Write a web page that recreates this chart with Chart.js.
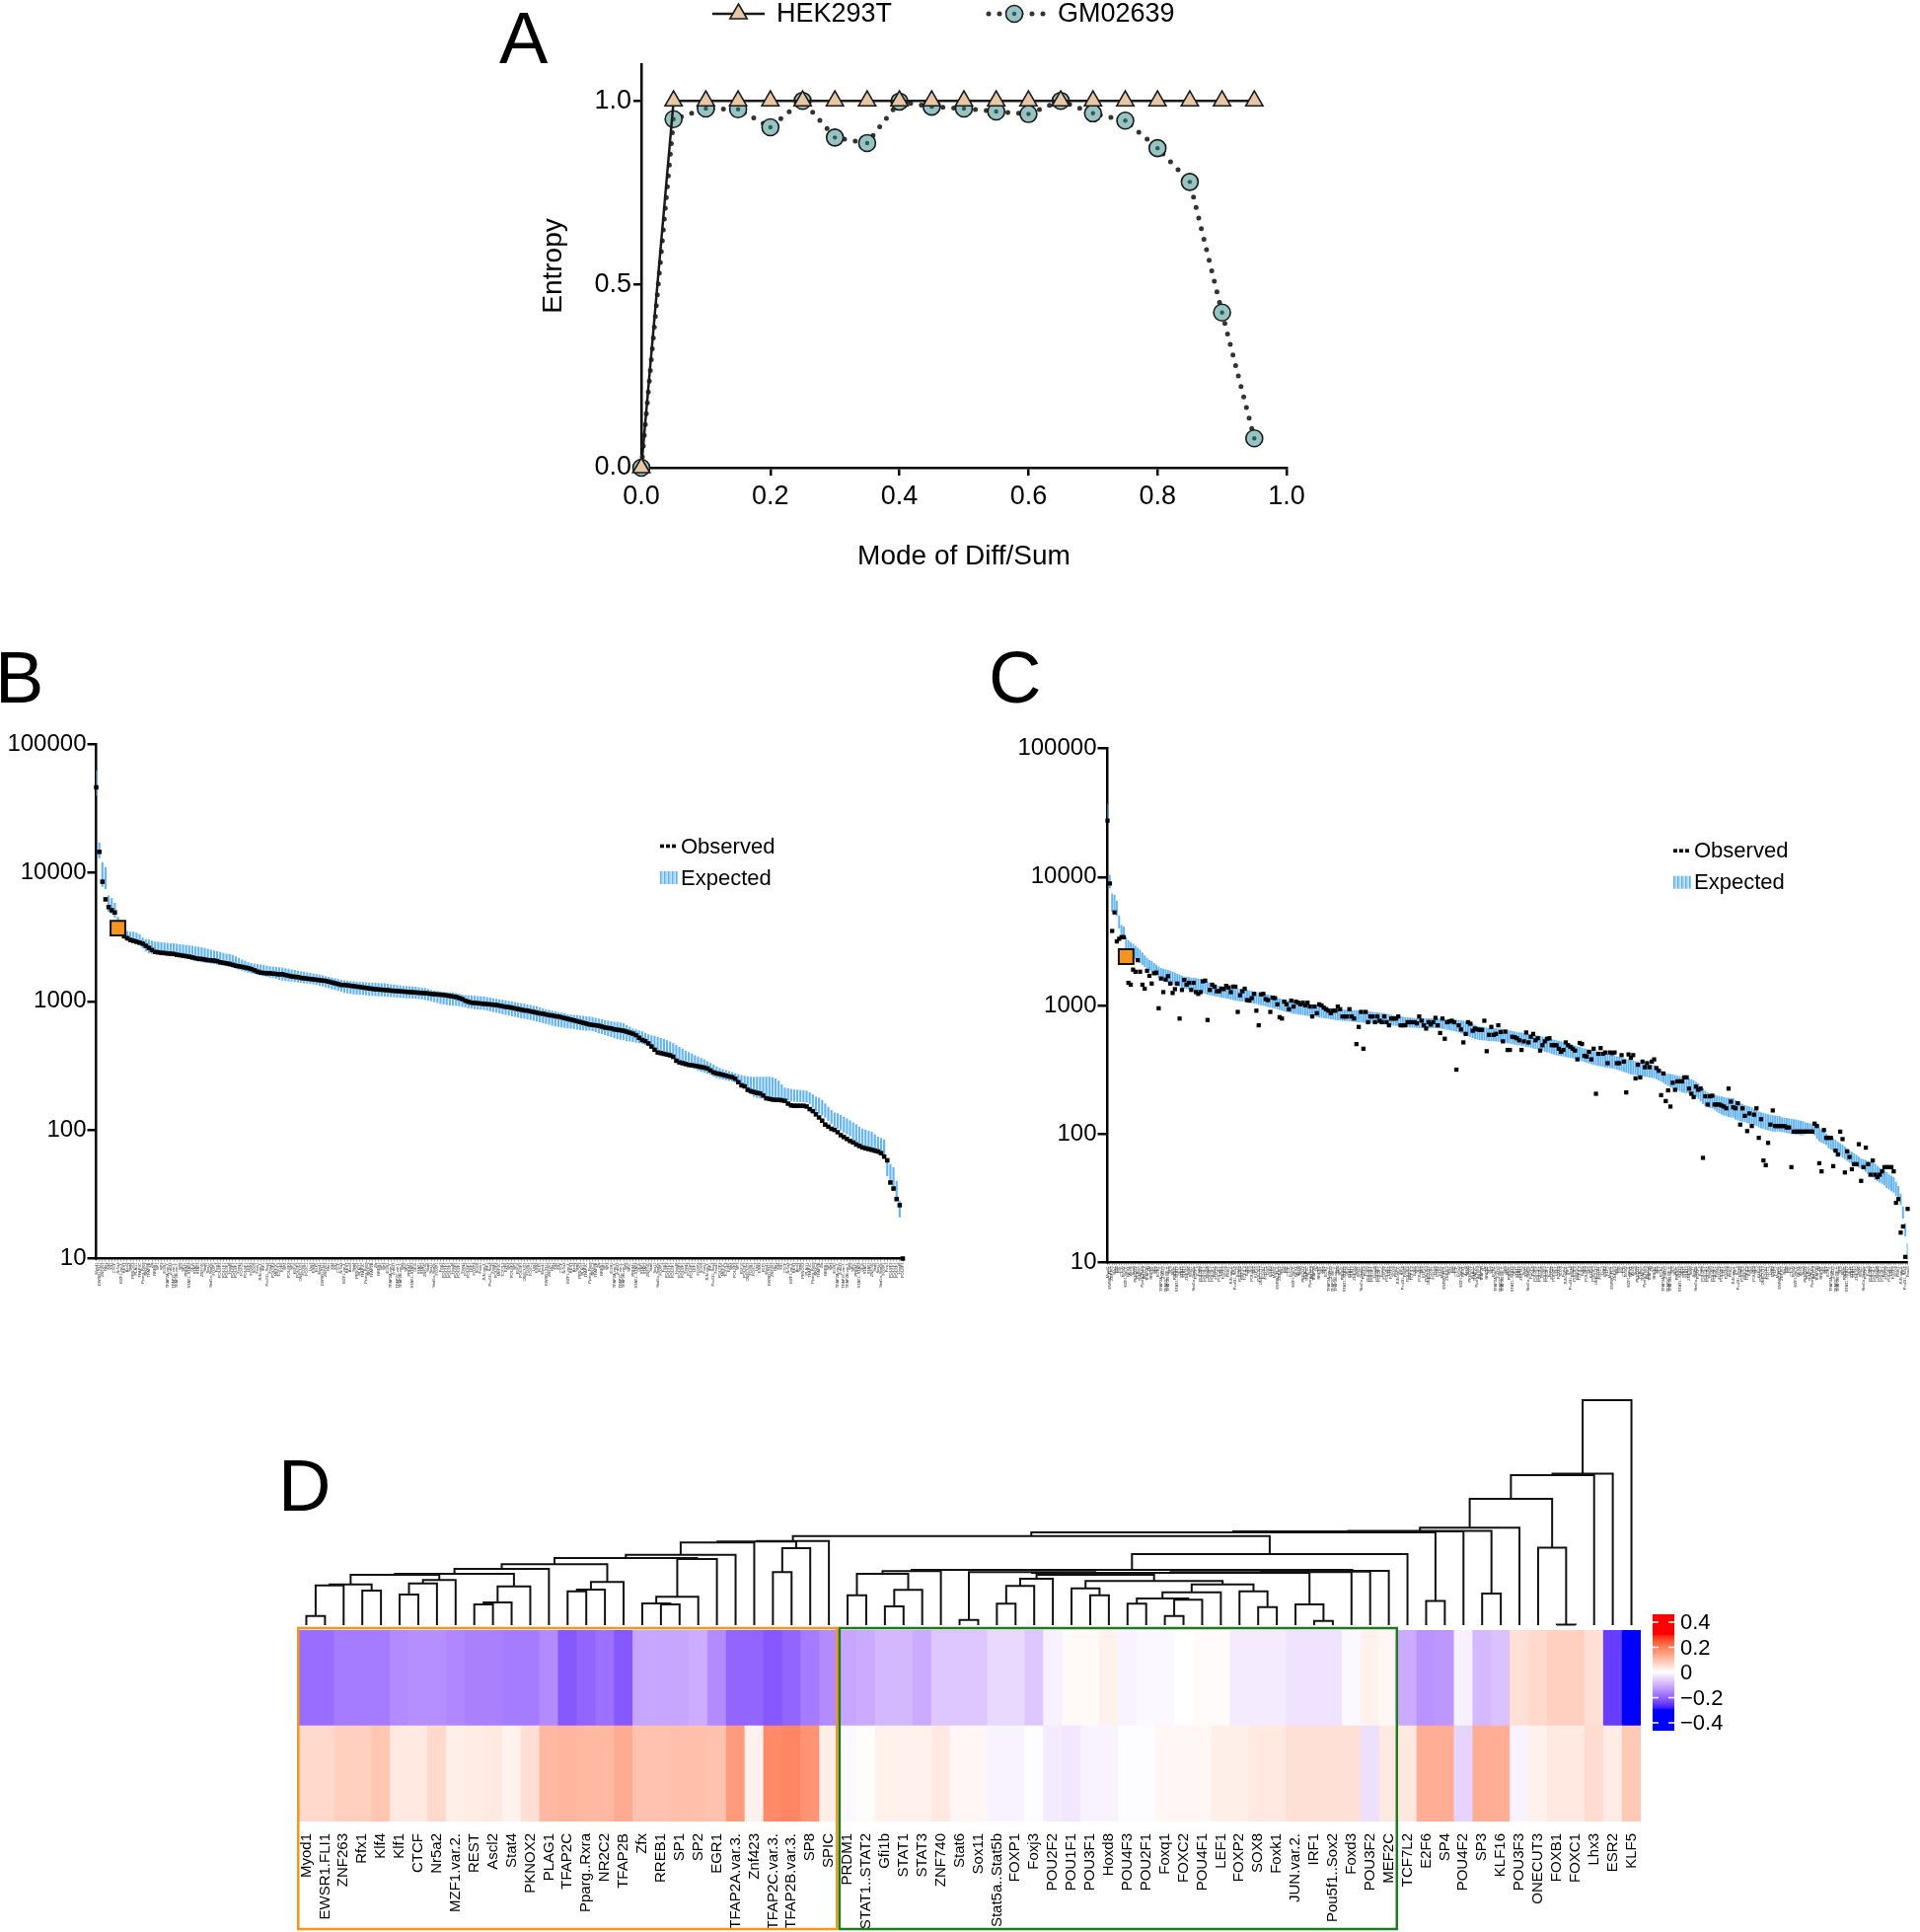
<!DOCTYPE html>
<html>
<head>
<meta charset="utf-8">
<script src="https://cdn.jsdelivr.net/npm/chart.js@4.4.1/dist/chart.umd.min.js"></script>
<style>
  html, body { margin: 0; padding: 0; background: #fff; }
  #page { position: relative; width: 1946px; height: 1958px; overflow: hidden; background: #fff;
          font-family: 'Liberation Sans', Arial, Helvetica, sans-serif; }
  canvas { position: absolute; }
  .panel-letter { position: absolute; font-size: 74px; line-height: 1; color: #000; }
</style>
</head>
<body>
<div id="page">
  <div class="panel-letter" style="left:506px;top:2px">A</div>
  <div class="panel-letter" style="left:-5px;top:650px">B</div>
  <div class="panel-letter" style="left:1002px;top:650px">C</div>
  <div class="panel-letter" style="left:282px;top:1469px">D</div>

  <canvas id="chartA" width="880" height="610" style="left:480px;top:0px;width:880px;height:610px"></canvas>
  <canvas id="chartB" width="940" height="590" style="left:0px;top:730px;width:940px;height:590px"></canvas>
  <canvas id="chartC" width="936" height="590" style="left:1010px;top:730px;width:936px;height:590px"></canvas>
  <canvas id="chartDendro" width="1420" height="252" style="left:280px;top:1400px;width:1420px;height:252px"></canvas>
  <canvas id="chartHeat" width="1420" height="318" style="left:280px;top:1640px;width:1420px;height:318px"></canvas>
  <canvas id="chartBar" width="140" height="150" style="left:1660px;top:1620px;width:140px;height:150px"></canvas>
</div>

<script>
// ---- panel A: entropy vs mode of diff/sum ----
const modeDiffSum = [0, 0.05, 0.1, 0.15, 0.2, 0.25, 0.3, 0.35, 0.4, 0.45, 0.5, 0.55, 0.6, 0.65, 0.7, 0.75, 0.8, 0.85, 0.9, 0.95];
const hekEntropy = [0, 1, 1, 1, 1, 1, 1, 1, 1, 1, 1, 1, 1, 1, 1, 1, 1, 1, 1, 1];
const gmEntropy = [0, 0.95, 0.979, 0.977, 0.928, 1.0, 0.9, 0.885, 0.998, 0.984, 0.979, 0.971, 0.964, 1.0, 0.966, 0.946, 0.871, 0.779, 0.423, 0.08];
const entropyTicks = [0, 0.5, 1.0];

// ---- panels B and C: observed vs expected counts ----
const logTicks = [10, 100, 1000, 10000, 100000];

const bHighlight = 7;
const bObserved = [46000, 14500, 8500, 6200, 5400, 5100, 4900, 3700, 3500, 3200,
  3100, 3000, 2950, 2900, 2850, 2800, 2700, 2600, 2500, 2420,
  2400, 2380, 2370, 2350, 2340, 2330, 2300, 2280, 2260, 2240,
  2220, 2190, 2160, 2140, 2130, 2110, 2090, 2080, 2070, 2050,
  2010, 1990, 1970, 1950, 1920, 1890, 1870, 1850, 1830, 1810,
  1780, 1740, 1700, 1670, 1660, 1650, 1650, 1640, 1630, 1620,
  1620, 1600, 1580, 1560, 1550, 1540, 1520, 1510, 1500, 1490,
  1480, 1470, 1460, 1450, 1440, 1420, 1400, 1380, 1360, 1340,
  1340, 1330, 1320, 1310, 1300, 1290, 1280, 1270, 1260, 1250,
  1240, 1235, 1230, 1225, 1220, 1210, 1205, 1200, 1195, 1190,
  1185, 1180, 1175, 1170, 1165, 1160, 1155, 1150, 1140, 1135,
  1130, 1125, 1120, 1110, 1100, 1090, 1080, 1060, 1040, 1010,
  990, 975, 970, 965, 960, 955, 950, 945, 940, 935,
  925, 915, 905, 900, 890, 880, 870, 860, 850, 845,
  835, 825, 815, 805, 800, 790, 780, 775, 765, 760,
  750, 740, 730, 720, 710, 700, 690, 680, 670, 660,
  655, 650, 645, 635, 625, 620, 615, 605, 600, 595,
  590, 580, 570, 560, 545, 520, 500, 490, 470, 445,
  420, 400, 395, 390, 385, 380, 370, 345, 335, 330,
  325, 320, 318, 315, 312, 308, 305, 300, 290, 280,
  275, 272, 268, 264, 260, 257, 250, 235, 222, 218,
  205, 200, 197, 194, 192, 185, 176, 174, 172, 171,
  171, 170, 168, 160, 155, 154, 154, 154, 154, 152,
  145, 140, 132, 125, 118, 110, 106, 102, 100, 96,
  91, 88, 85, 82, 80, 77, 75, 73, 72, 71,
  70, 69, 68, 66, 62, 58, 39, 35, 29, 26,
  10];
const bExpLow = [40000, 13000, 7800, 7500, 5000, 4800, 4500, 3700, 3300, 3100,
  2950, 2920, 2900, 2880, 2850, 2600, 2450, 2380, 2350, 2340,
  2330, 2320, 2310, 2300, 2280, 2260, 2240, 2220, 2200, 2180,
  2150, 2110, 2080, 2050, 2020, 2000, 1990, 1980, 1960, 1940,
  1920, 1900, 1880, 1860, 1830, 1800, 1770, 1740, 1710, 1680,
  1660, 1640, 1620, 1600, 1580, 1560, 1540, 1520, 1500, 1480,
  1460, 1450, 1440, 1430, 1420, 1410, 1400, 1390, 1380, 1370,
  1360, 1350, 1330, 1310, 1290, 1270, 1250, 1230, 1210, 1190,
  1170, 1160, 1150, 1140, 1135, 1130, 1125, 1120, 1115, 1110,
  1105, 1100, 1100, 1095, 1090, 1085, 1080, 1075, 1070, 1065,
  1060, 1060, 1055, 1050, 1045, 1040, 1030, 1020, 1005, 990,
  975, 960, 950, 940, 935, 930, 925, 920, 910, 900,
  890, 880, 875, 870, 865, 860, 850, 840, 830, 820,
  810, 800, 790, 780, 770, 760, 750, 740, 735, 730,
  720, 710, 700, 690, 680, 670, 660, 650, 640, 635,
  630, 625, 620, 615, 610, 605, 600, 598, 596, 595,
  590, 580, 570, 560, 550, 540, 530, 520, 510, 505,
  500, 495, 490, 485, 480, 475, 470, 460, 450, 440,
  430, 420, 410, 400, 390, 380, 370, 360, 350, 340,
  330, 320, 310, 300, 290, 285, 280, 275, 270, 262,
  255, 250, 248, 245, 242, 240, 235, 230, 225, 222,
  200, 190, 182, 178, 177, 177, 177, 177, 177, 176,
  174, 172, 171, 170, 168, 167, 166, 165, 165, 164,
  160, 150, 140, 135, 130, 125, 118, 112, 106, 103,
  100, 96, 93, 90, 85, 80, 76, 72, 70, 69,
  68, 66, 65, 64, 63, 44, 40, 34, 30, 21,
  null];
const bExpHigh = [62000, 17000, 12000, 11000, 6600, 6300, 5800, 4500, 3800, 3700,
  3500, 3460, 3450, 3400, 3300, 3100, 3020, 3000, 2950, 2900,
  2880, 2860, 2840, 2830, 2810, 2800, 2780, 2760, 2740, 2720,
  2700, 2680, 2650, 2640, 2620, 2580, 2540, 2500, 2470, 2440,
  2400, 2360, 2330, 2310, 2280, 2220, 2160, 2100, 2050, 2000,
  1970, 1950, 1940, 1920, 1900, 1880, 1860, 1850, 1840, 1830,
  1820, 1800, 1780, 1760, 1740, 1720, 1700, 1690, 1670, 1650,
  1640, 1620, 1600, 1580, 1560, 1540, 1520, 1500, 1480, 1460,
  1450, 1440, 1430, 1420, 1410, 1405, 1400, 1395, 1390, 1385,
  1385, 1380, 1375, 1370, 1360, 1350, 1340, 1330, 1320, 1310,
  1305, 1300, 1295, 1290, 1280, 1270, 1260, 1240, 1220, 1200,
  1190, 1180, 1175, 1170, 1165, 1160, 1150, 1140, 1120, 1110,
  1105, 1100, 1095, 1090, 1085, 1080, 1070, 1060, 1050, 1040,
  1030, 1020, 1010, 1000, 990, 980, 970, 960, 950, 940,
  930, 920, 905, 890, 875, 860, 850, 840, 830, 820,
  810, 800, 790, 785, 780, 775, 770, 765, 760, 755,
  750, 740, 730, 720, 710, 700, 695, 690, 685, 680,
  670, 650, 630, 610, 600, 590, 580, 565, 550, 540,
  535, 525, 515, 505, 495, 485, 470, 455, 440, 425,
  410, 400, 390, 380, 370, 360, 350, 340, 330, 320,
  310, 300, 295, 290, 285, 280, 275, 270, 266, 262,
  260, 258, 257, 257, 257, 257, 257, 257, 255, 250,
  240, 225, 212, 209, 207, 205, 204, 203, 202, 200,
  195, 188, 180, 177, 170, 160, 150, 142, 136, 134,
  130, 126, 122, 118, 114, 110, 105, 102, 100, 98,
  96, 92, 88, 86, 84, 56, 54, 51, 40, 28,
  null];

const cHighlight = 8;
const cObserved = [27500, 8900, 3800, 5300, 3150, 3300, 3400, 3400, 2400, 1500,
  1450, 1900, 1830, 2250, 1830, 1450, 1350, 1860, 1700, 1480,
  1780, 1800, 950, 1620, 1270, 1590, 1690, 1480, 1250, 1340,
  1480, 790, 1320, 1580, 1450, 1500, 1320, 1500, 1270, 1230,
  1270, 1540, 1560, 770, 1320, 1450, 1400, 1290, 1290, 1350,
  1340, 1420, 1380, 1270, 1400, 1400, 890, 1200, 1290, 1350,
  1100, 1090, 1140, 1230, 910, 700, 1220, 1230, 1120, 1100,
  890, 1150, 1140, 1020, 810, 790, 1070, 1020, 935, 1090,
  980, 1070, 1050, 1020, 1050, 1000, 1050, 980, 820, 980,
  870, 1020, 1000, 960, 935, 910, 870, 910, 910, 980,
  935, 820, 820, 820, 935, 820, 790, 500, 680, 890,
  460, 890, 740, 820, 820, 740, 820, 760, 740, 820,
  740, 700, 790, 790, 790, 820, 700, 700, 700, 740,
  740, 740, 740, 725, 820, 760, 700, 660, 740, 710,
  740, 800, 700, 610, 790, 550, 740, 750, 760, 740,
  316, 700, 650, 515, 600, 740, 720, 635, 660, 650,
  645, 645, 760, 440, 590, 680, 590, 600, 700, 620,
  525, 625, 450, 450, 570, 565, 555, 535, 450, 525,
  615, 515, 570, 600, 535, 555, 445, 490, 525, 550,
  555, 490, 490, 490, 460, 435, 450, 515, 490, 475,
  460, 445, 380, 510, 500, 405, 400, 435, 380, 460,
  205, 420, 465, 420, 430, 355, 430, 425, 430, 355,
  355, 410, 365, 210, 415, 390, 410, 270, 345, 275,
  365, 330, 355, 330, 365, 380, 325, 310, 200, 295,
  180, 218, 163, 250, 220, 256, 256, 256, 275, 275,
  225, 205, 193, 233, 220, 225, 65, 196, 169, 196,
  198, 169, 169, 169, 166, 163, 158, 225, 178, 161,
  158, 173, 118, 158, 138, 105, 144, 115, 141, 158,
  93, 130, 62, 57, 85, 118, 152, 115, 115, 115,
  115, 115, 112, 112, 55, 104, 104, 104, 104, 104,
  104, 104, 104, 104, 120, 115, 59, 51, 107, 93,
  93, 93, 56, 74, 69, 104, 91, 50, 73, 66,
  53, 58, 58, 83, 43, 55, 78, 58, 48, 62,
  48, 46, 48, 51, 55, 55, 55, 55, 51, 29,
  31, 17, 19, 11, 26];
const cExpLow = [27500, 8200, 5400, 5400, 5000, 4000, 3400, 3300, 2800, 2600,
  2500, 2400, 2300, 2200, 2150, 2080, 2000, 1940, 1880, 1840,
  1780, 1720, 1660, 1600, 1560, 1530, 1500, 1480, 1460, 1440,
  1420, 1400, 1380, 1360, 1350, 1340, 1330, 1320, 1310, 1300,
  1280, 1260, 1240, 1220, 1210, 1200, 1190, 1180, 1170, 1160,
  1150, 1140, 1130, 1120, 1110, 1100, 1090, 1085, 1080, 1075,
  1070, 1060, 1050, 1040, 1030, 1020, 1010, 1000, 990, 980,
  970, 960, 950, 940, 930, 915, 905, 895, 885, 875,
  865, 860, 855, 850, 845, 840, 835, 830, 825, 820,
  815, 810, 805, 800, 795, 790, 785, 780, 775, 770,
  768, 765, 762, 760, 757, 754, 750, 747, 744, 740,
  738, 735, 732, 730, 728, 726, 724, 722, 720, 718,
  715, 710, 705, 700, 697, 694, 690, 687, 684, 680,
  678, 676, 674, 672, 670, 670, 670, 670, 670, 670,
  670, 670, 668, 665, 660, 655, 650, 645, 640, 635,
  630, 620, 610, 600, 590, 580, 570, 560, 550, 545,
  540, 538, 536, 534, 532, 530, 528, 526, 524, 522,
  520, 515, 510, 506, 502, 500, 496, 492, 488, 484,
  480, 475, 470, 466, 462, 458, 452, 446, 440, 434,
  428, 422, 416, 412, 410, 406, 402, 398, 395, 392,
  390, 385, 380, 375, 370, 365, 360, 355, 350, 346,
  343, 340, 337, 334, 331, 328, 326, 325, 322, 318,
  314, 310, 305, 300, 296, 292, 290, 288, 286, 284,
  282, 280, 278, 276, 275, 272, 268, 262, 256, 250,
  244, 238, 232, 228, 224, 220, 216, 212, 210, 208,
  206, 204, 200, 195, 188, 180, 172, 166, 162, 160,
  158, 155, 150, 146, 142, 140, 138, 136, 135, 134,
  130, 128, 126, 125, 124, 122, 121, 120, 118, 116,
  113, 111, 110, 108, 107, 106, 105, 105, 105, 105,
  104, 103, 102, 101, 100, 100, 99, 99, 98, 98,
  100, 102, 104, 104, 98, 92, 88, 86, 84, 82,
  78, 76, 74, 72, 70, 68, 66, 64, 62, 60,
  58, 57, 56, 55, 54, 53, 51, 49, 47, 46,
  44, 43, 42, 41, 40, 38, 37, 36, 35, 33,
  31, 28, 22, 16, 10.5];
const cExpHigh = [37000, 10300, 7400, 7200, 6500, 5000, 4200, 4100, 3400, 3200,
  3100, 3000, 2900, 2800, 2700, 2560, 2440, 2330, 2250, 2200,
  2130, 2060, 2000, 1950, 1920, 1900, 1880, 1850, 1820, 1790,
  1760, 1730, 1700, 1670, 1660, 1650, 1640, 1630, 1620, 1610,
  1600, 1570, 1540, 1510, 1490, 1470, 1450, 1430, 1410, 1400,
  1390, 1380, 1370, 1360, 1350, 1345, 1340, 1335, 1330, 1320,
  1310, 1300, 1290, 1270, 1260, 1250, 1240, 1230, 1220, 1210,
  1200, 1180, 1160, 1140, 1130, 1115, 1105, 1090, 1080, 1070,
  1060, 1050, 1040, 1030, 1025, 1020, 1015, 1010, 1005, 1000,
  995, 990, 980, 970, 960, 950, 945, 940, 935, 930,
  928, 925, 922, 920, 918, 916, 914, 912, 910, 908,
  905, 900, 895, 890, 885, 880, 876, 872, 868, 862,
  855, 848, 840, 832, 825, 820, 816, 812, 808, 804,
  800, 797, 794, 791, 790, 790, 790, 790, 790, 790,
  790, 790, 788, 785, 782, 780, 778, 775, 772, 770,
  770, 765, 760, 755, 750, 745, 740, 720, 700, 685,
  680, 676, 672, 668, 665, 662, 660, 658, 656, 654,
  650, 645, 640, 634, 628, 622, 618, 614, 610, 606,
  600, 596, 592, 588, 584, 580, 574, 568, 562, 556,
  550, 544, 538, 532, 528, 522, 516, 510, 500, 494,
  490, 484, 478, 472, 466, 460, 454, 448, 444, 440,
  436, 432, 428, 424, 420, 416, 412, 410, 405, 400,
  395, 390, 385, 380, 375, 372, 370, 366, 362, 358,
  354, 350, 347, 345, 345, 340, 332, 322, 312, 302,
  296, 292, 290, 288, 285, 282, 280, 278, 275, 272,
  268, 265, 260, 252, 245, 235, 225, 215, 208, 205,
  202, 200, 198, 196, 194, 192, 190, 190, 189, 188,
  182, 176, 172, 170, 166, 164, 162, 160, 156, 152,
  148, 146, 145, 143, 141, 140, 139, 138, 137, 136,
  134, 133, 132, 131, 130, 129, 128, 127, 126, 125,
  122, 121, 120, 120, 116, 112, 110, 108, 104, 100,
  97, 95, 92, 89, 86, 84, 82, 79, 76, 73,
  72, 70, 68, 66, 64, 63, 62, 61, 60, 60,
  58, 56, 54, 53, 52, 50, 48, 47, 46, 42,
  39, 34, 27, 20, 14];

// ---- panel D: heatmap with column dendrogram ----
const motifNames = ['Myod1', 'EWSR1.FLI1', 'ZNF263', 'Rfx1', 'Klf4', 'Klf1', 'CTCF', 'Nr5a2', 'MZF1.var.2.', 'REST',
  'Ascl2', 'Stat4', 'PKNOX2', 'PLAG1', 'TFAP2C', 'Pparg..Rxra', 'NR2C2', 'TFAP2B', 'Zfx', 'RREB1',
  'SP1', 'SP2', 'EGR1', 'TFAP2A.var.3.', 'Znf423', 'TFAP2C.var.3.', 'TFAP2B.var.3.', 'SP8', 'SPIC',
  'PRDM1', 'STAT1..STAT2', 'Gfi1b', 'STAT1', 'STAT3', 'ZNF740', 'Stat6', 'Sox11', 'Stat5a..Stat5b', 'FOXP1',
  'Foxj3', 'POU2F2', 'POU1F1', 'POU3F1', 'Hoxd8', 'POU4F3', 'POU2F1', 'Foxq1', 'FOXC2', 'POU4F1',
  'LEF1', 'FOXP2', 'SOX8', 'Foxk1', 'JUN.var.2.', 'IRF1', 'Pou5f1..Sox2', 'Foxd3', 'POU3F2', 'MEF2C',
  'TCF7L2', 'E2F6', 'SP4', 'POU4F2', 'SP3', 'KLF16', 'POU3F3', 'ONECUT3', 'FOXB1', 'FOXC1',
  'Lhx3', 'ESR2', 'KLF5'];
const heatUpper = [-0.19, -0.19, -0.17, -0.17, -0.17, -0.15, -0.145, -0.145, -0.155, -0.165,
  -0.165, -0.17, -0.17, -0.15, -0.215, -0.2, -0.185, -0.215, -0.115, -0.115,
  -0.115, -0.105, -0.15, -0.2, -0.2, -0.215, -0.2, -0.17, -0.15,
  -0.115, -0.108, -0.093, -0.093, -0.108, -0.072, -0.072, -0.072, -0.048, -0.048,
  -0.072, -0.018, 0.009, 0.009, 0.021, -0.015, -0.009, -0.009, 0, 0.006,
  0.006, -0.025, -0.025, -0.025, -0.036, -0.036, -0.036, -0.009, 0.021, 0.012,
  -0.108, -0.14, -0.135, -0.018, -0.09, -0.078, 0.048, 0.06, 0.075, 0.075,
  0.048, -0.25, -0.42];
const heatLower = [0.06, 0.06, 0.075, 0.075, 0.09, 0.035, 0.035, 0.06, 0.025, 0.03,
  0.035, 0.02, 0.05, 0.11, 0.115, 0.11, 0.11, 0.13, 0.095, 0.095,
  0.1, 0.1, 0.095, 0.155, 0.02, 0.18, 0.185, 0.165, 0.025,
  -0.009, 0.004, 0.021, 0.021, 0.021, 0.035, 0.012, 0.012, -0.015, -0.015,
  -0.004, -0.025, -0.03, -0.015, -0.015, -0.004, -0.004, 0.012, 0.012, 0.012,
  0.025, 0.025, 0.035, 0.035, 0.048, 0.048, 0.048, 0.048, -0.04, 0.035,
  0.036, 0.126, 0.126, -0.055, 0.126, 0.126, -0.015, 0.021, 0.035, 0.035,
  0.055, 0.03, 0.085];
// merges like hclust: [a, b, height]; a/b >= 0 is a column, -k is merge k (1-based)
const dendroMerges = [
  [0, 1, 0.93], [-1, 2, 4.03], [3, 4, 3.5], [-2, -3, 4.13], [5, 6, 3.1],
  [-5, 7, 4.23], [-6, 8, 4.57], [-4, -7, 5.1], [9, 10, 2.1], [-9, 11, 2.3],
  [-10, 12, 3.93], [-8, -11, 5.2], [-12, 13, 5.7], [14, 15, 3.43], [-14, 16, 3.6],
  [-15, 17, 4.37], [-13, -16, 6.17], [19, 20, 2.1], [18, -18, 2.2], [-19, 21, 2.87],
  [-20, 22, 6.7], [-17, -21, 6.8], [-22, 23, 7.13], [-23, 24, 8.37], [25, 26, 5.37],
  [-25, 27, 7.8], [-24, -26, 8.47], [-27, 28, 8.53],
  [31, 32, 1.9], [-29, 33, 3.57], [29, 30, 3.03], [-31, -30, 5.2], [-32, 34, 5.47],
  [35, 36, 0.53], [37, 38, 2.17], [-35, 39, 3.97], [-36, 40, 4.7], [42, 43, 3.03],
  [41, -38, 3.73], [44, 45, 2.17], [46, 47, 0.93], [-41, 48, 2.57], [-40, -42, 2.7],
  [-43, 49, 3.33], [51, 52, 1.83], [50, -45, 3.43], [-44, -46, 4.13], [-39, -47, 4.47],
  [-37, -48, 5.1], [-34, -49, 5.37], [54, 55, 0.43], [53, -51, 2.1], [-50, -52, 5.3],
  [-53, 56, 5.37], [-54, 57, 5.43], [-55, 58, 5.5], [-33, -56, 5.6], [-57, 59, 7.2],
  [-28, -58, 9.03],
  [60, 61, 2.45], [63, 64, 3.2], [67, 68, 0.05], [66, -62, 7.84], [-59, -60, 9.4],
  [-64, 62, 9.5], [-65, -61, 9.55], [-66, 65, 9.88], [-67, -63, 12.8], [-68, 69, 15.2],
  [-69, 70, 15.34], [-70, 71, 22.8]
];
const heatGroups = [
  { first: 0, last: 28, color: '#f7941d' },
  { first: 29, last: 58, color: '#1f7a1f' }
];
const colorTicks = [0.4, 0.2, 0, -0.2, -0.4];

// ---------------------------------------------------------------------
const FONT = "'Liberation Sans', Arial, Helvetica, sans-serif";
Chart.defaults.font.family = FONT;
Chart.defaults.color = '#000';
Chart.defaults.animation = false;
Chart.defaults.responsive = false;
Chart.defaults.devicePixelRatio = 1;
Chart.defaults.events = [];
Chart.defaults.plugins.legend.display = false;
Chart.defaults.plugins.tooltip.enabled = false;

// Lab blend white -> blue / red, saturating at |v| = 0.3
function toLin(c) { c /= 255; return c <= 0.04045 ? c / 12.92 : Math.pow((c + 0.055) / 1.055, 2.4); }
function toSrgb(c) { c = Math.min(1, Math.max(0, c)); return Math.round(255 * (c <= 0.0031308 ? 12.92 * c : 1.055 * Math.pow(c, 1 / 2.4) - 0.055)); }
function rgbToLab(rgb) {
  const [r, g, b] = rgb.map(toLin);
  const x = (0.4124 * r + 0.3576 * g + 0.1805 * b) / 0.95047;
  const y = 0.2126 * r + 0.7152 * g + 0.0722 * b;
  const z = (0.0193 * r + 0.1192 * g + 0.9505 * b) / 1.08883;
  const f = t => t > 0.008856 ? Math.cbrt(t) : 7.787 * t + 16 / 116;
  const fx = f(x), fy = f(y), fz = f(z);
  return [116 * fy - 16, 500 * (fx - fy), 200 * (fy - fz)];
}
function labToRgb([L, a, b]) {
  const fy = (L + 16) / 116, fx = fy + a / 500, fz = fy - b / 200;
  const inv = t => t * t * t > 0.008856 ? t * t * t : (t - 16 / 116) / 7.787;
  const x = inv(fx) * 0.95047, y = inv(fy), z = inv(fz) * 1.08883;
  return [
    toSrgb(3.2406 * x - 1.5372 * y - 0.4986 * z),
    toSrgb(-0.9689 * x + 1.8758 * y + 0.0415 * z),
    toSrgb(0.0557 * x - 0.2040 * y + 1.0570 * z)
  ];
}
const LAB_WHITE = rgbToLab([255, 255, 255]);
const LAB_BLUE = rgbToLab([0, 0, 255]);
const LAB_RED = rgbToLab([255, 0, 0]);
function valueColor(v) {
  const t = Math.min(1, Math.abs(v) / 0.3);
  const end = v < 0 ? LAB_BLUE : LAB_RED;
  const [r, g, b] = labToRgb(LAB_WHITE.map((w, k) => w + (end[k] - w) * t));
  return `rgb(${r},${g},${b})`;
}

// ---------------- panel A ----------------
const legendA = {
  id: 'legendA',
  afterDraw(chart) {
    const ctx = chart.ctx;
    const y = 14;
    ctx.save();
    ctx.strokeStyle = '#1a1a1a';
    ctx.lineWidth = 2.5;
    ctx.beginPath(); ctx.moveTo(242, y); ctx.lineTo(295, y); ctx.stroke();
    ctx.beginPath();
    ctx.moveTo(268.5, y - 10); ctx.lineTo(277.2, y + 5); ctx.lineTo(259.8, y + 5); ctx.closePath();
    ctx.fillStyle = '#e7c7a4'; ctx.fill(); ctx.lineWidth = 1.6; ctx.stroke();

    ctx.setLineDash([0, 11]); ctx.lineCap = 'round'; ctx.lineWidth = 5; ctx.strokeStyle = '#333';
    ctx.beginPath(); ctx.moveTo(522, y); ctx.lineTo(578, y); ctx.stroke();
    ctx.setLineDash([]);
    ctx.beginPath(); ctx.arc(548, y, 8.5, 0, Math.PI * 2);
    ctx.fillStyle = '#97c3c2'; ctx.fill(); ctx.lineWidth = 1.6; ctx.strokeStyle = '#1a1a1a'; ctx.stroke();
    ctx.beginPath(); ctx.arc(548, y, 2.2, 0, Math.PI * 2); ctx.fillStyle = '#2e5c5c'; ctx.fill();

    ctx.fillStyle = '#000';
    ctx.font = '27px ' + FONT;
    ctx.textBaseline = 'middle';
    ctx.fillText('HEK293T', 307, y + 1);
    ctx.fillText('GM02639', 592, y + 1);
    ctx.restore();
  }
};

const gmPoints = modeDiffSum.map((x, i) => ({ x, y: gmEntropy[i] }));
new Chart(document.getElementById('chartA'), {
  type: 'scatter',
  data: {
    datasets: [
      { label: 'HEK293T', data: modeDiffSum.map((x, i) => ({ x, y: hekEntropy[i] })), showLine: true,
        borderColor: '#1a1a1a', borderWidth: 2.5, pointStyle: 'triangle', pointRadius: 10,
        pointBackgroundColor: '#e7c7a4', pointBorderColor: '#1a1a1a', pointBorderWidth: 1.6, order: 0, clip: false },
      { label: 'GM02639 centre', data: gmPoints, showLine: false, pointRadius: 2.2,
        pointBackgroundColor: '#2e5c5c', pointBorderWidth: 0, order: 1, clip: false },
      { label: 'GM02639', data: gmPoints, showLine: true, borderColor: '#333', borderWidth: 5,
        borderDash: [0, 11], borderCapStyle: 'round', pointStyle: 'circle', pointRadius: 8.5,
        pointBackgroundColor: '#97c3c2', pointBorderColor: '#1a1a1a', pointBorderWidth: 1.6, order: 2, clip: false }
    ]
  },
  options: {
    layout: { padding: { left: 50, right: 56, top: 65, bottom: 0 } },
    scales: {
      x: {
        type: 'linear', min: 0, max: 1,
        ticks: { stepSize: 0.2, callback: v => v.toFixed(1), font: { size: 27 }, color: '#000', padding: 5 },
        grid: { drawOnChartArea: false, tickLength: 8, color: '#000', lineWidth: 2.5 },
        border: { color: '#000', width: 2.5 },
        title: { display: true, text: 'Mode of Diff/Sum', font: { size: 28 }, color: '#000', padding: { top: 0, bottom: 29 } },
        afterFit(s) { s.height = 136; }
      },
      y: {
        type: 'linear', min: 0, max: 1.1,
        afterBuildTicks(s) { s.ticks = entropyTicks.map(v => ({ value: v })); },
        ticks: { callback: v => v.toFixed(1), font: { size: 27 }, color: '#000', padding: 2 },
        grid: { drawOnChartArea: false, tickLength: 8, color: '#000', lineWidth: 2.5 },
        border: { color: '#000', width: 2.5 },
        title: { display: true, text: 'Entropy', font: { size: 28 }, color: '#000', padding: { top: 14, bottom: 0 } },
        afterFit(s) { s.width = 120; }
      }
    }
  },
  plugins: [legendA]
});

// ---------------- panels B and C ----------------
function obsExpLegend(dx, dy) {
  return {
    id: 'obsExpLegend',
    afterDraw(chart) {
      const { ctx, chartArea } = chart;
      const x = chartArea.left + dx, y = chartArea.top + dy;
      ctx.save();
      ctx.fillStyle = '#000';
      for (let k = 0; k < 3; k++) ctx.fillRect(x + k * 6, y - 1.8, 4, 3.6);
      for (let s = 0; s < 17; s += 2) {
        ctx.fillStyle = (s % 4 === 0) ? '#5aaef2' : '#a9d5fa';
        ctx.fillRect(x + s, y + 32 - 6.5, 1.6, 13);
      }
      ctx.fillStyle = '#000';
      ctx.font = '22px ' + FONT;
      ctx.textBaseline = 'middle';
      ctx.fillText('Observed', x + 21, y + 1);
      ctx.fillText('Expected', x + 21, y + 33);
      ctx.restore();
    }
  };
}

function countChart(id, observed, expLow, expHigh, highlight, opts) {
  const labels = observed.map((_, i) => motifNames[i % motifNames.length]);
  return new Chart(document.getElementById(id), {
    type: 'bar',
    data: {
      labels,
      datasets: [
        { type: 'line', label: 'Highlighted', data: observed.map((v, i) => i === highlight ? v : null),
          showLine: false, pointStyle: 'rect', pointRadius: 10.5, pointBackgroundColor: '#f7941d',
          pointBorderColor: '#111', pointBorderWidth: 2, order: 0, clip: false },
        { type: 'line', label: 'Observed', data: observed, showLine: false, pointStyle: 'rect',
          pointRadius: opts.dotR, pointBackgroundColor: '#000', pointBorderWidth: 0, order: 1, clip: false },
        { type: 'bar', label: 'Expected', data: expLow.map((lo, i) => lo == null ? null : [lo, expHigh[i]]),
          backgroundColor: '#62b4f4', barThickness: opts.barW, order: 2 }
      ]
    },
    options: {
      layout: { padding: opts.padding },
      scales: {
        x: {
          type: 'category', offset: false,
          grid: { display: true, offset: false, drawOnChartArea: false, drawTicks: true, tickLength: 3, color: '#777', lineWidth: 0.6 },
          border: { color: '#000', width: 2.5 },
          ticks: { autoSkip: false, maxRotation: 90, minRotation: 90, font: { size: 4 }, color: '#333', padding: 1 },
          afterFit(s) { s.height = opts.xHeight; }
        },
        y: {
          type: 'logarithmic', min: 10, max: 100000,
          afterBuildTicks(s) { s.ticks = logTicks.map(v => ({ value: v })); },
          ticks: { callback: v => String(v), font: { size: 24 }, color: '#000', padding: 1 },
          grid: { drawOnChartArea: false, tickLength: opts.tickLen, color: '#000', lineWidth: 2.5 },
          border: { color: '#000', width: 2.5 },
          afterFit(s) { s.width = opts.yWidth; }
        }
      }
    },
    plugins: [obsExpLegend(opts.legendDx, 103.5)]
  });
}

countChart('chartB', bObserved, bExpLow, bExpHigh, bHighlight,
  { padding: { left: 0, right: 25, top: 24, bottom: 0 }, xHeight: 44.5, yWidth: 97.5, tickLen: 9, barW: 1.5, dotR: 3.2, legendDx: 571.5 });
countChart('chartC', cObserved, cExpLow, cExpHigh, cHighlight,
  { padding: { left: 0, right: 2, top: 28.7, bottom: 0 }, xHeight: 40.8, yWidth: 112.5, tickLen: 10, barW: 1.3, dotR: 3, legendDx: 573.5 });

// ---------------- panel D: dendrogram ----------------
const nodeX = [], nodeH = [];
const dendroSegments = dendroMerges.map(([a, b, h], k) => {
  const xa = a >= 0 ? a : nodeX[-a - 1], ha = a >= 0 ? 0 : nodeH[-a - 1];
  const xb = b >= 0 ? b : nodeX[-b - 1], hb = b >= 0 ? 0 : nodeH[-b - 1];
  nodeX[k] = (xa + xb) / 2;
  nodeH[k] = h;
  return [{ x: xa, y: ha }, { x: xa, y: h }, { x: xb, y: h }, { x: xb, y: hb }];
});

new Chart(document.getElementById('chartDendro'), {
  type: 'scatter',
  data: {
    datasets: dendroSegments.map(seg => ({
      data: seg, showLine: true, borderColor: '#111', borderWidth: 2, pointRadius: 0, tension: 0, clip: false
    }))
  },
  options: {
    layout: { padding: { left: 21, right: 37, top: 7, bottom: 5 } },
    scales: {
      x: { type: 'linear', min: -0.5, max: motifNames.length - 0.5, display: false },
      y: { type: 'linear', min: 0, max: 24, display: false }
    }
  }
});

// ---------------- panel D: heatmap ----------------
const groupBoxes = {
  id: 'groupBoxes',
  afterDraw(chart) {
    const { ctx, chartArea } = chart;
    const xs = chart.scales.x;
    const w = xs.getPixelForValue(1) - xs.getPixelForValue(0);
    ctx.save();
    ctx.lineWidth = 2.5;
    heatGroups.forEach(g => {
      const l = xs.getPixelForValue(g.first) - w / 2 + 1.3;
      const r = xs.getPixelForValue(g.last) + w / 2 - 1.3;
      ctx.strokeStyle = g.color;
      ctx.strokeRect(l, chartArea.top - 2, r - l, 305);
    });
    ctx.restore();
  }
};

new Chart(document.getElementById('chartHeat'), {
  type: 'bar',
  data: {
    labels: motifNames,
    datasets: [
      { label: 'lower', data: motifNames.map(() => 1), backgroundColor: heatLower.map(valueColor), stack: 'cells' },
      { label: 'upper', data: motifNames.map(() => 1), backgroundColor: heatUpper.map(valueColor), stack: 'cells' }
    ]
  },
  options: {
    layout: { padding: { left: 21, right: 37, top: 12, bottom: 0 } },
    datasets: { bar: { categoryPercentage: 1, barPercentage: 1, borderWidth: 0 } },
    scales: {
      x: {
        stacked: true,
        grid: { display: false },
        border: { display: false },
        ticks: { autoSkip: false, maxRotation: 90, minRotation: 90, font: { size: 15 }, color: '#000', padding: 4 },
        afterFit(s) { s.height = 112; }
      },
      y: { stacked: true, display: false, min: 0, max: 2 }
    }
  },
  plugins: [groupBoxes]
});

// ---------------- panel D: colour key ----------------
const keySteps = [];
for (let k = -46; k <= 46; k++) keySteps.push(k / 100);
const keyLabels = {
  id: 'keyLabels',
  afterDatasetsDraw(chart) {
    const { ctx, chartArea } = chart;
    const ys = chart.scales.y;
    ctx.save();
    ctx.strokeStyle = '#fff';
    ctx.lineWidth = 1.5;
    ctx.fillStyle = '#000';
    ctx.font = '22px ' + FONT;
    ctx.textBaseline = 'middle';
    colorTicks.forEach(v => {
      const y = ys.getPixelForValue(v);
      ctx.beginPath();
      ctx.moveTo(chartArea.left, y); ctx.lineTo(chartArea.left + 6, y);
      ctx.moveTo(chartArea.right - 6, y); ctx.lineTo(chartArea.right, y);
      ctx.stroke();
      const txt = v === 0 ? '0' : (v < 0 ? '\u2212' + Math.abs(v).toFixed(1) : v.toFixed(1));
      ctx.fillText(txt, chartArea.right + 6, y + 1);
    });
    ctx.restore();
  }
};
new Chart(document.getElementById('chartBar'), {
  type: 'bar',
  data: {
    labels: ['key'],
    datasets: keySteps.map(v => ({
      data: [[v - 0.0056, v + 0.0056]], backgroundColor: valueColor(v), borderWidth: 0,
      grouped: false, categoryPercentage: 1, barPercentage: 1
    }))
  },
  options: {
    layout: { padding: { left: 15, right: 103, top: 16, bottom: 16 } },
    scales: {
      x: { type: 'category', display: false },
      y: { type: 'linear', min: -0.463, max: 0.463, display: false }
    }
  },
  plugins: [keyLabels]
});
</script>
</body>
</html>
